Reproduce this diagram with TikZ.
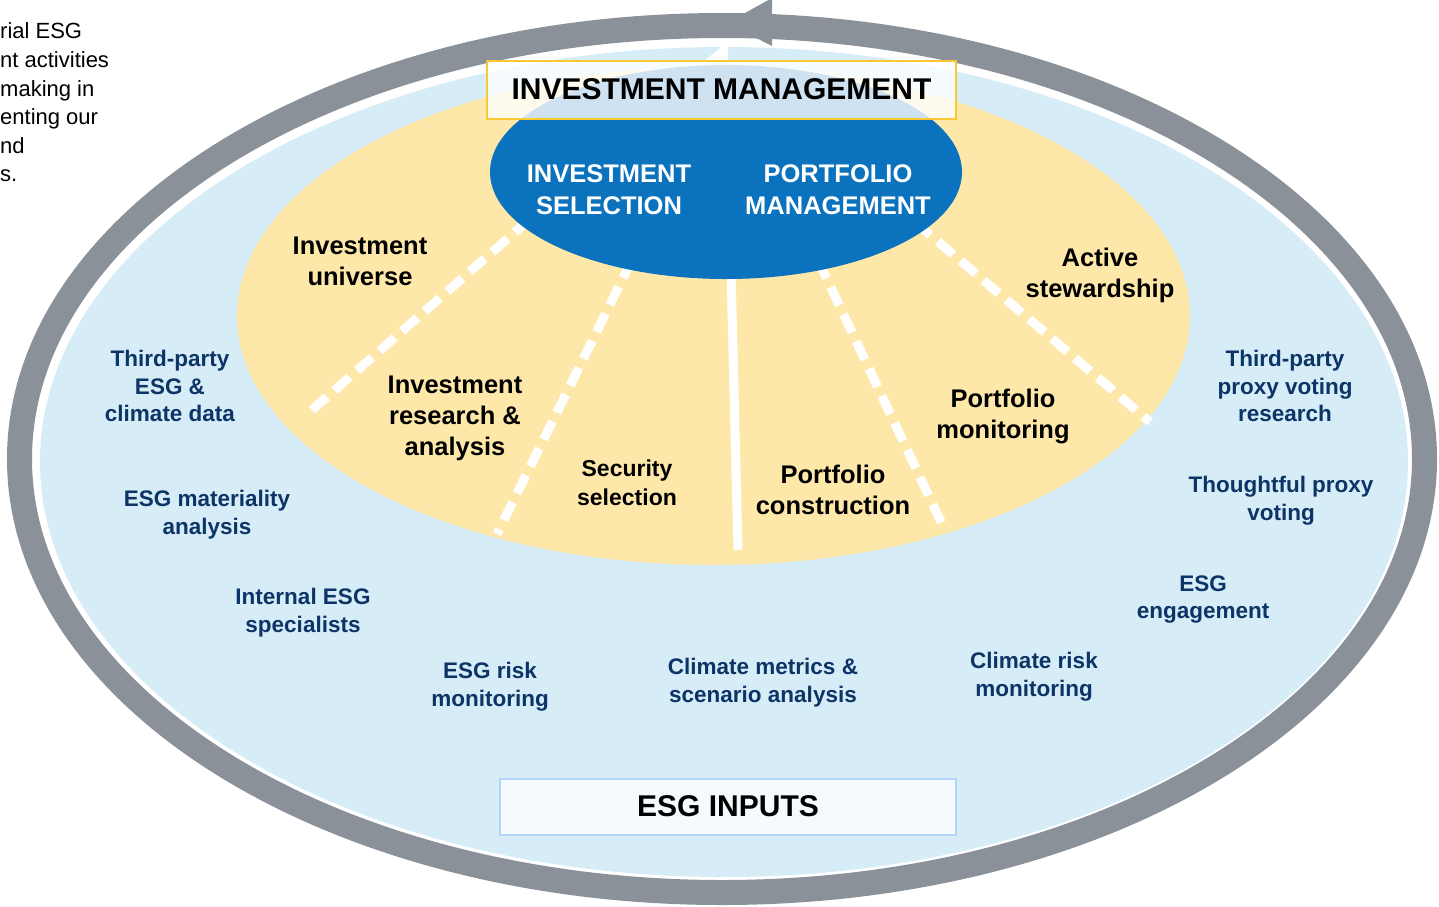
\documentclass[tikz,border=0pt]{standalone}
\usepackage{fontspec}
\setmainfont{Liberation Sans}
\definecolor{ringgray}{RGB}{138,145,152}
\definecolor{lightblue}{RGB}{214,236,246}
\definecolor{sand}{RGB}{254,232,169}
\definecolor{corp}{RGB}{11,114,189}
\definecolor{navy}{RGB}{12,52,102}
\definecolor{gold}{RGB}{250,200,50}
\definecolor{boxblue}{RGB}{180,214,246}
\definecolor{boxfill}{RGB}{244,250,253}
\begin{document}
\begin{tikzpicture}[x=1pt,y=-1pt,
  blk/.style={font=\fontsize{25.5}{31}\selectfont\bfseries, align=center, text=black, inner sep=0pt},
  sblk/.style={font=\fontsize{23}{29}\selectfont\bfseries, align=center, text=black, inner sep=0pt},
  inp/.style={font=\fontsize{22.5}{27.8}\selectfont\bfseries, align=center, text=navy, inner sep=0pt},
  wht/.style={font=\fontsize{25.5}{32}\selectfont\bfseries, align=center, text=white, inner sep=0pt},
  divider/.style={draw=white, line width=9pt},
  dashdiv/.style={divider, dash pattern=on 20pt off 10pt},
  frag/.style={font=\fontsize{22}{28}\selectfont, anchor=base west, inner sep=0pt, text=black},
  titlebox/.style={line width=2pt, font=\fontsize{30}{36}\selectfont\bfseries, inner sep=0pt, text=black}]
\useasboundingbox (0,0) rectangle (1439,906);
% outer cycle ring with arrowhead
\draw[ringgray, line width=25pt] (722,459) ellipse [x radius=702.5, y radius=433.5];
\fill[ringgray] (772,-2) -- (772,46) -- (727,23) -- cycle;
% ESG inputs area
\fill[lightblue] (724,462) ellipse [x radius=684, y radius=415];
\fill[white] (705,60) -- (728,42) -- (728,60) -- cycle;
% investment management area
\fill[sand] (713.5,316) ellipse [x radius=476.5, y radius=249];
% dividers
\coordinate (d1a) at (530,219); \coordinate (d1b) at (312,410);
\coordinate (d2a) at (632,260); \coordinate (d2b) at (497,534);
\coordinate (d3a) at (731,270); \coordinate (d3b) at (738,550);
\coordinate (d4a) at (818,260); \coordinate (d4b) at (942,524);
\coordinate (d5a) at (915,222); \coordinate (d5b) at (1150,422);
\draw[dashdiv] (d1a) -- (d1b);
\draw[dashdiv] (d2a) -- (d2b);
\draw[divider] (d3a) -- (d3b);
\draw[dashdiv] (d4a) -- (d4b);
\draw[dashdiv] (d5a) -- (d5b);
% core
\fill[corp] (726,172) ellipse [x radius=236, y radius=107];
\node[wht] (sel) at (609,190) {INVESTMENT\\SELECTION};
\node[wht] (pm) at (838,190) {PORTFOLIO\\MANAGEMENT};
% title boxes
\node[titlebox, draw=gold, fill=white, fill opacity=0.8, text opacity=1,
      minimum width=469pt, minimum height=58pt] (im) at (721.5,89.5) {INVESTMENT MANAGEMENT};
\node[titlebox, draw=boxblue, fill=boxfill, minimum width=456pt, minimum height=56pt] (esg) at (728,806.5) {ESG INPUTS};
% process steps
\node[blk] (univ) at (360,261) {Investment\\universe};
\node[blk] (res) at (455,418.5) {Investment\\research \&\\analysis};
\node[sblk] (secsel) at (627,483) {Security\\selection};
\node[blk] (pcon) at (833,489.5) {Portfolio\\construction};
\node[blk] (pmon) at (1003,416) {Portfolio\\monitoring};
\node[blk] (stew) at (1100,275) {Active\\stewardship};
% ESG inputs
\node[inp] (i1) at (170,386) {Third-party\\ESG \&\\climate data};
\node[inp] (i2) at (207,515) {ESG materiality\\analysis};
\node[inp] (i3) at (303,612.5) {Internal ESG\\specialists};
\node[inp] (i4) at (490,687) {ESG risk\\monitoring};
\node[inp] (i5) at (763,683) {Climate metrics \&\\scenario analysis};
\node[inp] (i6) at (1034,677) {Climate risk\\monitoring};
\node[inp] (i7) at (1203,599.5) {ESG\\engagement};
\node[inp] (i8) at (1281,500.5) {Thoughtful proxy\\voting};
\node[inp] (i9) at (1285,386) {Third-party\\proxy voting\\research};
% side text, partly cut at the left edge in the source
\node[frag] (f1) at (0,38) {rial ESG};
\node[frag] (f2) at (0,67) {nt activities};
\node[frag] (f3) at (0,96) {making in};
\node[frag] (f4) at (0,124) {enting our};
\node[frag] (f5) at (0,153) {nd};
\node[frag] (f6) at (0,181) {s.};
\end{tikzpicture}
\end{document}
